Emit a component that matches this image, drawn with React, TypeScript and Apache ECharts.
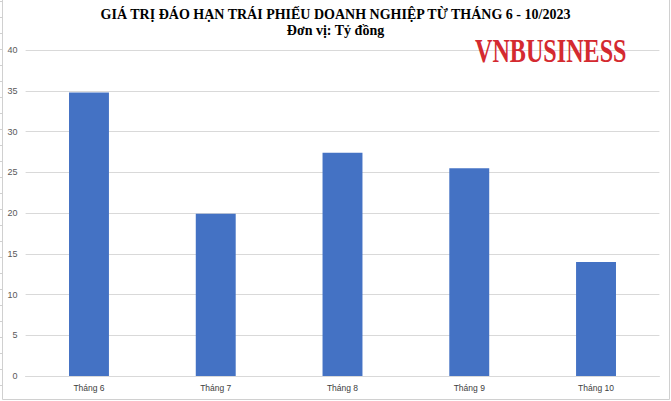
import React, { useEffect, useRef } from "react";
import * as echarts from "echarts";

const titleText = "GIÁ TRỊ ĐÁO HẠN TRÁI PHIẾU DOANH NGHIỆP TỪ THÁNG 6 - 10/2023";
const subtitleText = "Đơn vị: Tỷ đồng";
const logoText = "VNBUSINESS";
const categories = ["Tháng 6", "Tháng 7", "Tháng 8", "Tháng 9", "Tháng 10"];
const values = [34.8, 19.9, 27.4, 25.5, 14.0];
const yMin = 0;
const yMax = 40;
const yInterval = 5;

export default function App() {
  const ref = useRef<HTMLDivElement>(null);
  useEffect(() => {
    if (!ref.current) return;
    const chart = echarts.init(ref.current, undefined, { renderer: "svg" });
    const edgeTicks: any[] = [];
    for (let y = 1; y < 400; y += 16) {
      edgeTicks.push({
        type: "line",
        shape: { x1: 0, y1: y + 0.5, x2: 2.5, y2: y + 0.5 },
        style: { stroke: "#d0d0d0", lineWidth: 1 },
        silent: true,
      });
    }
    chart.setOption({
      animation: false,
      backgroundColor: "#ffffff",
      title: {
        text: titleText,
        subtext: subtitleText,
        left: "center",
        top: 2,
        itemGap: 2,
        textStyle: {
          fontFamily: "Liberation Serif",
          fontWeight: "bold",
          fontSize: 14,
          color: "#000000",
        },
        subtextStyle: {
          fontFamily: "Liberation Serif",
          fontWeight: "bold",
          fontSize: 14,
          color: "#000000",
        },
      },
      grid: { left: 25.6, right: 11.6, top: 50, bottom: 25, containLabel: false },
      xAxis: {
        type: "category",
        data: categories,
        axisLine: { show: true, lineStyle: { color: "#d9d9d9", width: 1 } },
        axisTick: { show: false },
        axisLabel: {
          color: "#404040",
          fontSize: 8.5,
          fontFamily: "Liberation Sans Narrow, Liberation Sans, sans-serif",
          margin: 7,
        },
      },
      yAxis: {
        type: "value",
        min: yMin,
        max: yMax,
        interval: yInterval,
        axisLine: { show: false },
        axisTick: { show: false },
        splitLine: { lineStyle: { color: "#d9d9d9", width: 1 } },
        axisLabel: {
          color: "#595959",
          fontSize: 9,
          fontFamily: "Liberation Sans Narrow, Liberation Sans, sans-serif",
          margin: 8,
        },
      },
      series: [
        {
          type: "bar",
          data: values,
          barWidth: "31.5%",
          itemStyle: { color: "#4472c4" },
        },
      ],
      graphic: [
        {
          type: "line",
          shape: { x1: 2.5, y1: 0, x2: 2.5, y2: 399.5 },
          style: { stroke: "#d0d0d0", lineWidth: 1 },
          silent: true,
        },
        {
          type: "line",
          shape: { x1: 2.5, y1: 399.5, x2: 669.5, y2: 399.5 },
          style: { stroke: "#d0d0d0", lineWidth: 1 },
          silent: true,
        },
        {
          type: "line",
          shape: { x1: 669.5, y1: 0, x2: 669.5, y2: 399.5 },
          style: { stroke: "#d0d0d0", lineWidth: 1 },
          silent: true,
        },
        ...edgeTicks,
        {
          type: "text",
          x: 475,
          y: 33,
          scaleX: 0.71,
          style: {
            text: logoText,
            fontFamily: "Liberation Serif",
            fontWeight: "bold",
            fontSize: 34,
            fill: "#d42a30",
            textVerticalAlign: "top",
          },
          z: 100,
        },
      ],
    });
    return () => chart.dispose();
  }, []);
  return <div ref={ref} style={{ width: 671, height: 401, position: "fixed", left: 0, top: 0 }} />;
}
